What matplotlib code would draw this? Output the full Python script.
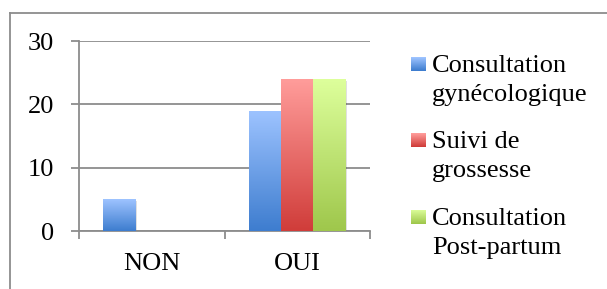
import matplotlib
matplotlib.use("Agg")
import matplotlib.pyplot as plt
import numpy as np
from matplotlib.colors import LinearSegmentedColormap
from matplotlib.patches import Rectangle

categories = ["NON", "OUI"]
series = ["Consultation\ngynécologique", "Suivi de\ngrossesse", "Consultation\nPost-partum"]
gyneco = [5, 19]
grossesse = [0, 24]
postpartum = [0, 24]
values = [gyneco, grossesse, postpartum]

# couleurs haut / bas du dégradé
tops = ["#9dc3ff", "#ff9c9a", "#ddff9b"]
bottoms = ["#3e7dcf", "#d03d3a", "#9fc74c"]

plt.rcParams['font.family'] = ['Liberation Serif']
grey = "#8c8c8c"
fs = 19

fig = plt.figure(figsize=(6.07, 2.89), dpi=100)
W, H = 607, 289
ax = fig.add_axes([79 / W, 1 - 231 / H, (370 - 79) / W, (231 - 41) / H])

# cadre du graphique
fig.add_artist(plt.Line2D([10 / W, 10 / W], [0, 1 - 13 / H], color=grey, lw=1.3,
                          transform=fig.transFigure))
fig.add_artist(plt.Line2D([10 / W, 1], [1 - 13 / H, 1 - 13 / H], color=grey, lw=1.3,
                          transform=fig.transFigure))

x = np.arange(len(categories))
width = 1 / 4.5
for i, vals in enumerate(values):
    cmap = LinearSegmentedColormap.from_list("g%d" % i, [bottoms[i], tops[i]])
    bars = ax.bar(x + (i - 1) * width, vals, width, facecolor="none", edgecolor="none", zorder=3)
    for b in bars:
        h = b.get_height()
        if h <= 0:
            continue
        x0 = b.get_x()
        # ombre légère
        ax.add_patch(Rectangle((x0 + 0.012, -0.3), b.get_width(), h, facecolor="#000000",
                               alpha=0.12, edgecolor="none", zorder=2))
        grad = np.linspace(0, 1, 100).reshape(-1, 1)
        im = ax.imshow(grad, cmap=cmap, origin="lower", aspect="auto",
                       extent=[x0, x0 + b.get_width(), 0, h], zorder=3)
        im.set_clip_path(b)

ax.set_xlim(-0.5, 1.5)
ax.set_ylim(0, 30)
ax.set_yticks([0, 10, 20, 30])
ax.set_yticks([], minor=True)
ax.set_xticks([-0.5, 0.5, 1.5], minor=True)
ax.set_xticks(x)
ax.set_xticklabels(categories)
ax.tick_params(axis="x", which="major", length=0, pad=16, labelsize=fs)
ax.tick_params(axis="x", which="minor", length=5.8, color=grey, width=1.3)
ax.tick_params(axis="y", length=5.8, color=grey, width=1.3, pad=12, labelsize=fs)
ax.grid(axis="y", color=grey, lw=1.3, zorder=0)
ax.set_axisbelow(True)
for s in ["top", "right"]:
    ax.spines[s].set_visible(False)
for s in ["left", "bottom"]:
    ax.spines[s].set_color(grey)
    ax.spines[s].set_linewidth(1.3)

# légende
base_y = [72, 148, 225]
for i, name in enumerate(series):
    y0 = base_y[i]
    sq = np.linspace(1, 0, 14).reshape(-1, 1)
    cmap = LinearSegmentedColormap.from_list("l%d" % i, [bottoms[i], tops[i]])
    lax = fig.add_axes([411 / W, 1 - (y0 - 1) / H, 15 / W, 14 / H])
    lax.imshow(sq, cmap=cmap, aspect="auto", vmin=0, vmax=1)
    lax.axis("off")
    fig.text(432 / W, 1 - y0 / H, name.split("\n")[0], fontsize=fs, va="baseline", ha="left")
    fig.text(432 / W, 1 - (y0 + 29) / H, name.split("\n")[1], fontsize=fs, va="baseline", ha="left")

fig.savefig("out.png", dpi=100)
